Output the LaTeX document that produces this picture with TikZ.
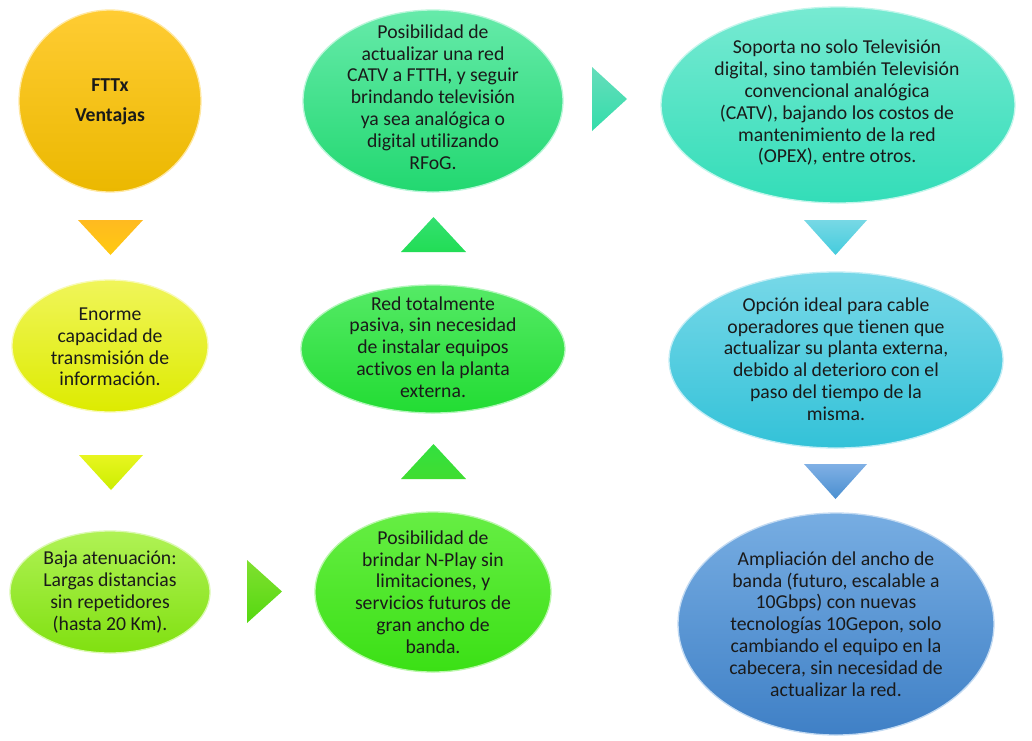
\documentclass[tikz,border=0pt]{standalone}
\usepackage{fontspec}
\setmainfont[Ligatures={NoCommon,NoRequired,NoContextual,NoRare},RawFeature={-liga;-clig;-dlig;-calt;-rlig;-hlig}]{Carlito}
\usetikzlibrary{shapes.geometric}
\definecolor{txtc}{HTML}{1A1A1A}
% bubble colours (top, bottom)
\definecolor{aT}{HTML}{FFCC33}\definecolor{aB}{HTML}{EBB800}
\definecolor{bT}{HTML}{F0F55A}\definecolor{bB}{HTML}{DDEB00}
\definecolor{cT}{HTML}{B0F255}\definecolor{cB}{HTML}{80E010}
\definecolor{dT}{HTML}{66EE44}\definecolor{dB}{HTML}{3BE015}
\definecolor{eT}{HTML}{55EA66}\definecolor{eB}{HTML}{22DC33}
\definecolor{fT}{HTML}{66EAAA}\definecolor{fB}{HTML}{22D870}
\definecolor{gT}{HTML}{77EAD2}\definecolor{gB}{HTML}{33DDB8}
\definecolor{hT}{HTML}{77D8E8}\definecolor{hB}{HTML}{33C2D8}
\definecolor{iT}{HTML}{77ADE2}\definecolor{iB}{HTML}{3F80C6}
% triangle colours
\definecolor{taT}{HTML}{FFBA20}\definecolor{taB}{HTML}{FFCA10}
\definecolor{tbT}{HTML}{E8F520}\definecolor{tbB}{HTML}{CCEE00}
\definecolor{tcT}{HTML}{80E030}\definecolor{tcB}{HTML}{55D810}
\definecolor{tdT}{HTML}{33E040}\definecolor{tdB}{HTML}{40DD30}
\definecolor{teT}{HTML}{33E070}\definecolor{teB}{HTML}{22DD55}
\definecolor{tfT}{HTML}{66DDBB}\definecolor{tfB}{HTML}{33DDAA}
\definecolor{tgT}{HTML}{77D8E5}\definecolor{tgB}{HTML}{44CCDD}
\definecolor{thT}{HTML}{80B0E5}\definecolor{thB}{HTML}{4A8FD0}
\tikzset{
  bubble/.style 2 args={ellipse, inner sep=0pt, top color=#1, bottom color=#2,
    draw=#1!45!white, line width=1.3pt},
  txt/.style={align=center, text=txtc, inner sep=0pt,
    font=\fontsize{19.7}{21.8}\selectfont},
  tri/.style 2 args={top color=#1, bottom color=#2, draw=none},
}
\begin{document}
\begin{tikzpicture}[x=1pt,y=-1pt]
\useasboundingbox (0,0) rectangle (1032,740);
\fill[white] (0,0) rectangle (1032,740);

% ellipses
\node[bubble={aT}{aB}, minimum width=182pt, minimum height=182pt] (e1) at (110,101) {};
\node[bubble={bT}{bB}, minimum width=196pt, minimum height=132pt] (e2) at (110,346) {};
\node[bubble={cT}{cB}, minimum width=200pt, minimum height=122pt] (e3) at (110,592) {};
\node[bubble={dT}{dB}, minimum width=236pt, minimum height=160pt] (e4) at (433,592) {};
\node[bubble={eT}{eB}, minimum width=264pt, minimum height=128pt] (e5) at (433,349) {};
\node[bubble={fT}{fB}, minimum width=260pt, minimum height=182pt] (e6) at (433,101) {};
\node[bubble={gT}{gB}, minimum width=354pt, minimum height=196pt] (e7) at (838,105) {};
\node[bubble={hT}{hB}, minimum width=334pt, minimum height=176pt] (e8) at (836,360) {};
\node[bubble={iT}{iB}, minimum width=316pt, minimum height=222pt] (e9) at (836,624) {};

% texts
\node[txt] (x1) at (110,102) {\textbf{FTTx}\\[8.2pt]\textbf{Ventajas}};
\node[txt] (x2) at (110,347) {Enorme\\capacidad de\\transmisión de\\información.};
\node[txt] (x3) at (110,592) {Baja atenuación:\\Largas distancias\\sin repetidores\\(hasta 20 Km).};
\node[txt] (x4) at (433,592) {Posibilidad de\\brindar N-Play sin\\limitaciones, y\\servicios futuros de\\gran ancho de\\banda.};
\node[txt] (x5) at (433,347) {Red totalmente\\pasiva, sin necesidad\\de instalar equipos\\activos en la planta\\externa.};
\node[txt] (x6) at (433,97) {Posibilidad de\\actualizar una red\\CATV a FTTH, y seguir\\brindando televisión\\ya sea analógica o\\digital utilizando\\RFoG.};
\node[txt] (x7) at (837,103) {Soporta no solo Televisión\\digital, sino también Televisión\\convencional analógica\\(CATV), bajando los costos de\\mantenimiento de la red\\(OPEX), entre otros.};
\node[txt] (x8) at (836,359) {Opción ideal para cable\\operadores que tienen que\\actualizar su planta externa,\\debido al deterioro con el\\paso del tiempo de la\\misma.};
\node[txt] (x9) at (836,624) {Ampliación del ancho de\\banda (futuro, escalable a\\10Gbps) con nuevas\\tecnologías 10Gepon, solo\\cambiando el equipo en la\\cabecera, sin necesidad de\\actualizar la red.};

% triangle arrows
\path[tri={taT}{taB}] (78,220) -- (143,220) -- (110.5,255) -- cycle;
\path[tri={tbT}{tbB}] (79,455) -- (143,455) -- (111,490) -- cycle;
\path[tri={tcT}{tcB}] (247,560) -- (282,591.5) -- (247,623) -- cycle;
\path[tri={tdT}{tdB}] (433.5,444) -- (466,479) -- (401,479) -- cycle;
\path[tri={teT}{teB}] (433.5,217) -- (466,252) -- (401,252) -- cycle;
\path[tri={tfT}{tfB}] (592,67) -- (627,99) -- (592,131) -- cycle;
\path[tri={tgT}{tgB}] (804,220) -- (867,220) -- (835.5,255) -- cycle;
\path[tri={thT}{thB}] (804,464) -- (867,464) -- (835.5,499) -- cycle;
\end{tikzpicture}
\end{document}
